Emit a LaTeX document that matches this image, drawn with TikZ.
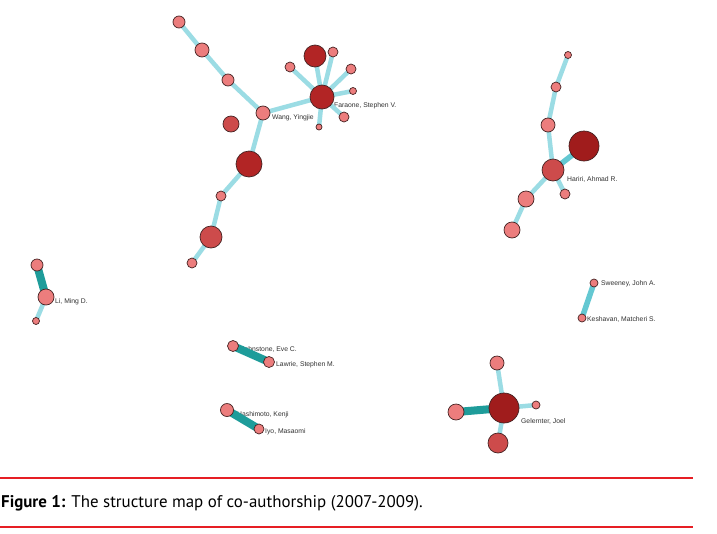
\documentclass[tikz,border=0pt]{standalone}
\usepackage{fontspec}
\setmainfont{Liberation Sans}
\newfontfamily\capfont{PT Sans}
\pgfdeclarelayer{bgfill}
\pgfdeclarelayer{lab}
\pgfdeclarelayer{edg}
\pgfsetlayers{bgfill,lab,edg,main}
\definecolor{nlight}{RGB}{236,125,125}
\definecolor{nmed}{RGB}{205,75,75}
\definecolor{ndark}{RGB}{178,37,37}
\definecolor{ndeep}{RGB}{160,28,28}
\definecolor{nline}{RGB}{70,35,35}
\definecolor{elight}{RGB}{155,220,228}
\definecolor{emid}{RGB}{100,200,210}
\definecolor{eteal}{RGB}{30,156,154}
\definecolor{capred}{RGB}{230,30,36}
\definecolor{labtext}{RGB}{50,50,50}
\tikzset{
  vert/.style={circle,draw=nline,line width=0.7pt,inner sep=0pt,minimum size=#1},
  vl/.style={vert=#1,fill=nlight},
  vm/.style={vert=#1,fill=nmed},
  vd/.style={vert=#1,fill=ndark},
  vk/.style={vert=#1,fill=ndeep},
  el/.style={draw=elight,line width=4.5pt},
  em/.style={draw=emid,line width=5.5pt},
  et/.style={draw=eteal,line width=8pt},
  lab/.style={anchor=west,inner sep=0pt,font=\fontsize{6.8}{8}\selectfont,text=labtext},
  redrule/.style={draw=capred,line width=2.6pt}
}
\begin{document}
\begin{tikzpicture}[x=1pt,y=-1pt]
\begin{pgfonlayer}{bgfill}
\fill[white] (0,0) rectangle (717,533);
\end{pgfonlayer}
\useasboundingbox (0,0) rectangle (717,533);
% ---- top-left cluster
\node[vl=12pt] (a1) at (179,22) {};
\node[vl=14pt] (a2) at (202,50) {};
\node[vl=12pt] (a3) at (228,80) {};
\node[vl=14pt] (wang) at (263,113) {};
\node[vd=24pt] (far) at (322,97) {};
\node[vd=22pt] (f1) at (315,56) {};
\node[vl=10pt] (f2) at (333,52) {};
\node[vl=10pt] (f3) at (290,67) {};
\node[vl=10pt] (f4) at (351,69) {};
\node[vl=7pt] (f5) at (353,91) {};
\node[vl=10pt] (f6) at (344,117) {};
\node[vl=6pt] (f7) at (319,127) {};
\node[vm=16pt] (iso) at (231,124) {};
\node[vd=26pt] (b1) at (249,164) {};
\node[vl=10pt] (b2) at (221,196) {};
\node[vm=22pt] (b3) at (211,237) {};
\node[vl=10pt] (b4) at (192,263) {};
% ---- top-right cluster
\node[vl=7pt] (h1) at (568,55) {};
\node[vl=10pt] (h2) at (556,87) {};
\node[vl=14pt] (h3) at (548,125) {};
\node[vk=30pt] (hbig) at (584,146) {};
\node[vm=22pt] (hariri) at (553,170) {};
\node[vl=10pt] (h4) at (565,194) {};
\node[vl=16pt] (h5) at (526,199) {};
\node[vl=16pt] (h6) at (512,230) {};
% ---- Li
\node[vl=12pt] (li1) at (37,265) {};
\node[vl=16pt] (li) at (46,297) {};
\node[vl=7pt] (li2) at (36,321) {};
% ---- Johnstone / Lawrie
\node[vl=11pt] (john) at (233,346) {};
\node[vl=11pt] (lawr) at (269,362) {};
% ---- Hashimoto / Iyo
\node[vl=13pt] (hash) at (227,410) {};
\node[vl=10pt] (iyo) at (259,429) {};
% ---- Gelernter
\node[vl=14pt] (g1) at (497,363) {};
\node[vk=30pt] (gel) at (504,408) {};
\node[vl=16pt] (g2) at (456,412) {};
\node[vl=8pt] (g3) at (536,405) {};
\node[vm=20pt] (g4) at (498,443) {};
% ---- Sweeney / Keshavan
\node[vl=8pt] (swe) at (594,283) {};
\node[vl=8pt] (kes) at (582,318) {};
% ---- edges
\begin{pgfonlayer}{edg}
\draw[el] (a1.center) -- (a2.center) -- (a3.center) -- (wang.center);
\draw[el] (wang.center) -- (far.center);
\draw[el] (wang.center) -- (b1.center) -- (b2.center) -- (b3.center) -- (b4.center);
\foreach \t in {f1,f2,f3,f4,f5,f6,f7} \draw[el] (far.center) -- (\t.center);
\draw[el] (h1.center) -- (h2.center) -- (h3.center) -- (hariri.center);
\draw[em] (hariri.center) -- (hbig.center);
\draw[el] (hariri.center) -- (h4.center);
\draw[el] (hariri.center) -- (h5.center) -- (h6.center);
\draw[et] (li1.center) -- (li.center);
\draw[el] (li.center) -- (li2.center);
\draw[et] (john.center) -- (lawr.center);
\draw[et] (hash.center) -- (iyo.center);
\draw[et] (g2.center) -- (gel.center);
\draw[el] (g1.center) -- (gel.center);
\draw[el] (g3.center) -- (gel.center);
\draw[el] (g4.center) -- (gel.center);
\draw[em] (swe.center) -- (kes.center);
\end{pgfonlayer}
% ---- labels
\begin{pgfonlayer}{lab}
\node[lab] (lfar) at (334,106) {Faraone, Stephen V.};
\node[lab] (lwang) at (272,118) {Wang, Yingjie};
\node[lab] (lhar) at (567,179) {Hariri, Ahmad R.};
\node[lab] (lli) at (55,302) {Li, Ming D.};
\node[lab] (ljohn) at (241,349) {Johnstone, Eve C.};
\node[lab] (llaw) at (276,365) {Lawrie, Stephen M.};
\node[lab] (lhash) at (237,415) {Hashimoto, Kenji};
\node[lab] (liyo) at (265,432) {Iyo, Masaomi};
\node[lab] (lgel) at (521,421) {Gelernter, Joel};
\node[lab] (lswe) at (601,284) {Sweeney, John A.};
\node[lab] (lkes) at (587,319) {Keshavan, Matcheri S.};
\end{pgfonlayer}
% ---- caption
\coordinate (r1a) at (0,478);
\coordinate (r1b) at (693,478);
\coordinate (r2a) at (0,527);
\coordinate (r2b) at (693,527);
\draw[redrule] (r1a) -- (r1b);
\draw[redrule] (r2a) -- (r2b);
\node[anchor=base west,inner sep=0pt,font=\capfont\fontsize{16.9}{19}\selectfont] (cap) at (1,507)
  {\textbf{Figure 1:} The structure map of co-authorship (2007-2009).};
\end{tikzpicture}
\end{document}
